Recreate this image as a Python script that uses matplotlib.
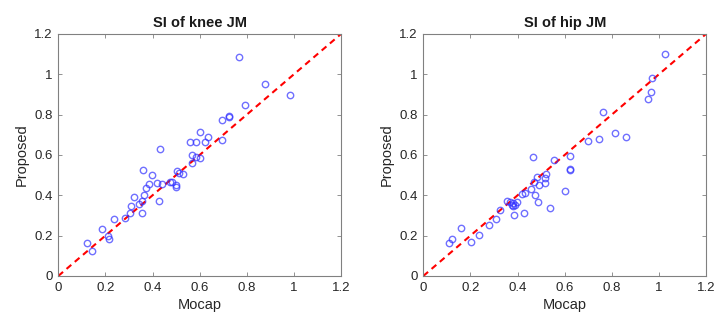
import matplotlib
matplotlib.use("Agg")
import matplotlib.pyplot as plt
import numpy as np

plt.rcParams['font.family'] = ['Liberation Sans', 'DejaVu Sans']

knee_mocap = [0.766, 0.876, 0.983, 0.791, 0.693, 0.722, 0.723, 0.696, 0.601, 0.557,
              0.582, 0.621, 0.637, 0.432, 0.566, 0.586, 0.599, 0.566, 0.361, 0.399,
              0.502, 0.512, 0.529, 0.473, 0.481, 0.500, 0.500, 0.420, 0.441, 0.383,
              0.371, 0.365, 0.320, 0.357, 0.342, 0.429, 0.310, 0.303, 0.357, 0.283,
              0.236, 0.187, 0.211, 0.214, 0.120, 0.144]
knee_proposed = [1.084, 0.952, 0.896, 0.848, 0.774, 0.787, 0.793, 0.674, 0.712, 0.666,
                 0.666, 0.666, 0.689, 0.630, 0.597, 0.588, 0.583, 0.559, 0.524, 0.499,
                 0.521, 0.512, 0.504, 0.468, 0.468, 0.450, 0.440, 0.463, 0.456, 0.456,
                 0.436, 0.400, 0.392, 0.370, 0.359, 0.370, 0.347, 0.311, 0.312, 0.289,
                 0.281, 0.231, 0.198, 0.183, 0.165, 0.124]

hip_mocap = [1.027, 0.971, 0.965, 0.952, 0.764, 0.811, 0.859, 0.746, 0.699, 0.466,
             0.556, 0.623, 0.623, 0.623, 0.522, 0.481, 0.516, 0.470, 0.491, 0.516,
             0.457, 0.432, 0.419, 0.475, 0.603, 0.485, 0.536, 0.354, 0.368, 0.382,
             0.396, 0.375, 0.389, 0.379, 0.325, 0.386, 0.426, 0.308, 0.279, 0.238,
             0.201, 0.161, 0.122, 0.108]
hip_proposed = [1.102, 0.983, 0.911, 0.878, 0.813, 0.706, 0.688, 0.678, 0.668, 0.588,
                0.574, 0.592, 0.531, 0.524, 0.506, 0.489, 0.484, 0.468, 0.450, 0.461,
                0.433, 0.413, 0.407, 0.403, 0.421, 0.367, 0.337, 0.369, 0.365, 0.364,
                0.365, 0.354, 0.354, 0.347, 0.327, 0.302, 0.312, 0.281, 0.251, 0.202,
                0.167, 0.238, 0.185, 0.165]

titles = ['SI of knee JM', 'SI of hip JM']
ticks = [0, 0.2, 0.4, 0.6, 0.8, 1, 1.2]
tick_labels = ['0', '0.2', '0.4', '0.6', '0.8', '1', '1.2']

fig = plt.figure(figsize=(7.18, 3.22), dpi=100)
lefts = [0.0812, 0.5896]
datasets = [(knee_mocap, knee_proposed), (hip_mocap, hip_proposed)]

for left, (xs, ys), title in zip(lefts, datasets, titles):
    ax = fig.add_axes([left, 0.143, 0.394, 0.752])
    ax.plot([0, 1.2], [0, 1.2], '--', color='red', lw=1.5, dashes=(3, 2.2), zorder=1)
    ax.plot(xs, ys, 'o', mfc='none', mec=(0.2, 0.2, 1.0, 0.7), ms=4.6, mew=1.0, zorder=2)
    ax.set_xlim(0, 1.2)
    ax.set_ylim(0, 1.2)
    ax.set_xticks(ticks)
    ax.set_yticks(ticks)
    ax.set_xticklabels(tick_labels)
    ax.set_yticklabels(tick_labels)
    ax.tick_params(direction='in', top=True, right=True, length=3, width=0.6,
                   colors='#808080', labelcolor='#262626', labelsize=9.5, pad=4)
    for s in ax.spines.values():
        s.set_color('#808080')
        s.set_linewidth(0.8)
    ax.set_title(title, fontsize=10.5, fontweight='bold', color='#1a1a1a', pad=5)
    ax.set_xlabel('Mocap', fontsize=10.5, color='#262626', labelpad=3)
    ax.set_ylabel('Proposed', fontsize=10.5, color='#262626', labelpad=4)

fig.savefig('out.png', dpi=100)
